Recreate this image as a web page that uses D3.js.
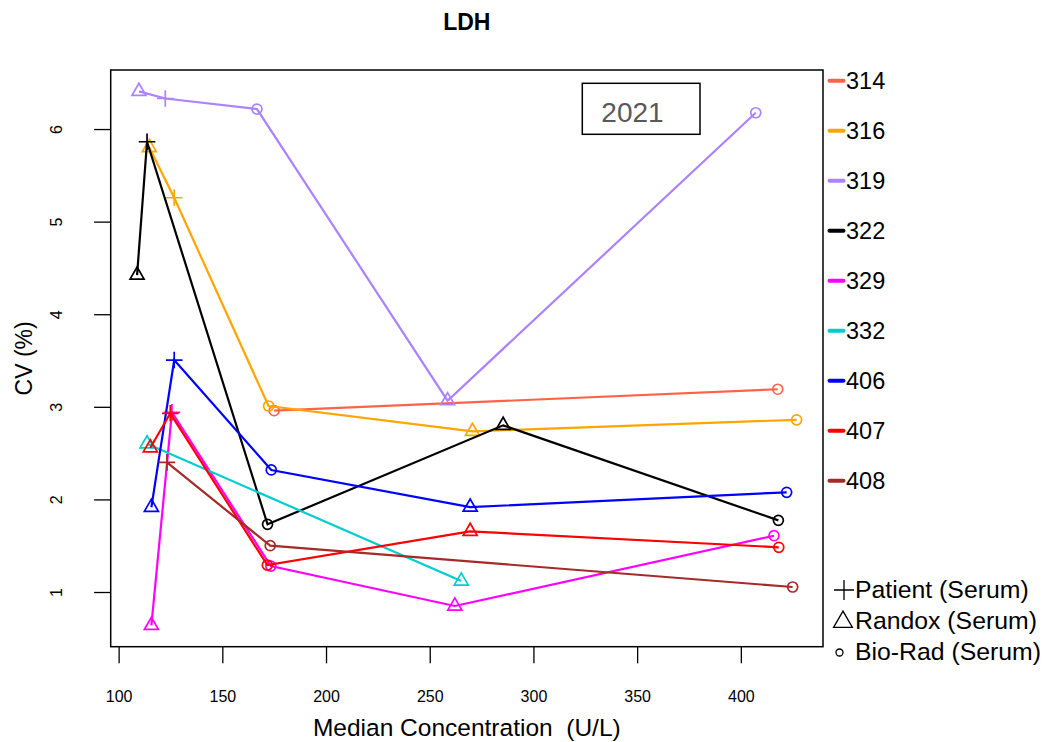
<!DOCTYPE html>
<html>
<head>
<meta charset="utf-8">
<script src="https://cdn.jsdelivr.net/npm/d3@7"></script>
<style>
  body { margin: 0; background: #fff; }
  svg { display: block; font-family: "Liberation Sans", Arial, sans-serif; }
</style>
</head>
<body>
<svg id="chart" width="1047" height="742"></svg>
<script>
// ---- Data ----
const labs = ["314", "316", "319", "322", "329", "332", "406", "407", "408"];
const labColors = ["#FF6347", "#FFA500", "#AB82FF", "#000000", "#FF00FF", "#00CDCD", "#0000FF", "#FF0000", "#A52A2A"];
// shape codes: "p" = Patient (+), "t" = Randox (triangle), "c" = Bio-Rad (circle)
const lab314 = [["c", 175.0, 2.958], ["c", 417.8, 3.19]];
const lab316 = [["t", 114.8, 5.80], ["p", 126.8, 5.258], ["c", 172.3, 3.009], ["t", 270.6, 2.735], ["c", 426.9, 2.86]];
const lab319 = [["t", 109.8, 6.407], ["p", 122.5, 6.33], ["c", 166.7, 6.216], ["t", 258.6, 3.066], ["c", 407.2, 6.176]];
const lab322 = [["t", 108.9, 4.423], ["p", 113.7, 5.863], ["c", 171.8, 1.731], ["t", 285.4, 2.80], ["c", 418.1, 1.774]];
const lab329 = [["t", 115.8, 0.64], ["p", 125.7, 2.94], ["c", 173.4, 1.28], ["t", 262.1, 0.849], ["c", 416.0, 1.608]];
const lab332 = [["t", 113.7, 2.60], ["t", 265.2, 1.119]];
const lab406 = [["t", 115.8, 1.915], ["p", 126.8, 3.505], ["c", 173.6, 2.318], ["t", 269.5, 1.917], ["c", 422.1, 2.077]];
const lab407 = [["t", 115.3, 2.558], ["p", 124.9, 2.93], ["c", 171.7, 1.29], ["t", 269.5, 1.655], ["c", 418.3, 1.483]];
const lab408 = [["p", 123.3, 2.40], ["c", 173.1, 1.50], ["c", 425.0, 1.054]];
const labData = [lab314, lab316, lab319, lab322, lab329, lab332, lab406, lab407, lab408];
const xTicks = [100, 150, 200, 250, 300, 350, 400];
const yTicks = [1, 2, 3, 4, 5, 6];
const shapeLegend = [["p", "Patient (Serum)"], ["t", "Randox (Serum)"], ["c", "Bio-Rad (Serum)"]];
const yearLabel = "2021";
const title = "LDH";
const xTitle = "Median Concentration  (U/L)";
const yTitle = "CV (%)";

// ---- Layout ----
const svg = d3.select("#chart");
const L = 110.7, R = 823, T = 70, B = 646.7;

const allX = labData.flat().map(d => d[1]);
const allY = labData.flat().map(d => d[2]);
const [x0, x1] = d3.extent(allX), [y0, y1] = d3.extent(allY);
const px = (x1 - x0) * 0.04, py = (y1 - y0) * 0.04;
const x = d3.scaleLinear().domain([x0 - px, x1 + px]).range([L, R]);
const y = d3.scaleLinear().domain([y0 - py, y1 + py]).range([B, T]);

// Title
svg.append("text").attr("x", (L + R) / 2).attr("y", 30)
  .attr("text-anchor", "middle").attr("font-weight", "bold").attr("font-size", 23)
  .text(title);

// Axes
const xAxis = d3.axisBottom(x).tickValues(xTicks).tickSize(16.6).tickPadding(27).tickFormat(d3.format("d"));
const gx = svg.append("g").attr("transform", `translate(0,${B})`).call(xAxis);
gx.select(".domain").remove();
gx.selectAll(".tick line").attr("stroke", "#000").attr("stroke-width", 1.3);
gx.selectAll(".tick text").attr("font-size", 16).attr("font-family", "Liberation Sans, Arial, sans-serif").attr("fill", "#000");

const yAxis = d3.axisLeft(y).tickValues(yTicks).tickSize(16.6).tickFormat(d3.format("d"));
const gy = svg.append("g").attr("transform", `translate(${L},0)`).call(yAxis);
gy.select(".domain").remove();
gy.selectAll(".tick line").attr("stroke", "#000").attr("stroke-width", 1.3);
gy.selectAll(".tick text").remove();
gy.selectAll(".tick").append("text")
  .attr("transform", "translate(-49,0) rotate(-90)")
  .attr("text-anchor", "middle").attr("fill", "#000")
  .attr("font-size", 16).attr("font-family", "Liberation Sans, Arial, sans-serif")
  .text(d => d);

// Box
svg.append("rect").attr("x", L).attr("y", T).attr("width", R - L).attr("height", B - T)
  .attr("fill", "none").attr("stroke", "#000").attr("stroke-width", 1.5);

// Axis titles
svg.append("text").attr("x", (L + R) / 2).attr("y", 736)
  .attr("text-anchor", "middle").attr("font-size", 24.5).style("white-space", "pre")
  .text(xTitle);
svg.append("text").attr("transform", `translate(32,${(T + B) / 2}) rotate(-90)`)
  .attr("text-anchor", "middle").attr("font-size", 23)
  .text(yTitle);

// Marker drawing
function drawMarker(g, shape, cx, cy, color, size, sw) {
  if (shape === "c") {
    g.append("circle").attr("cx", cx).attr("cy", cy).attr("r", size.c)
      .attr("fill", "none").attr("stroke", color).attr("stroke-width", sw);
  } else if (shape === "t") {
    const Rr = size.t;
    const up = 1.555 * Rr, xc = 1.347 * Rr, dn = 0.778 * Rr;
    g.append("path").attr("d", `M${cx},${cy - up}L${cx + xc},${cy + dn}L${cx - xc},${cy + dn}Z`)
      .attr("fill", "none").attr("stroke", color).attr("stroke-width", sw);
  } else {
    const h = size.p;
    g.append("path").attr("d", `M${cx - h},${cy}H${cx + h}M${cx},${cy - h}V${cy + h}`)
      .attr("fill", "none").attr("stroke", color).attr("stroke-width", sw);
  }
}

const line = d3.line().x(d => x(d[1])).y(d => y(d[2]));
const plot = svg.append("g");
labData.forEach((pts, i) => {
  const sorted = pts.slice().sort((a, b) => a[1] - b[1]);
  const g = plot.append("g");
  g.append("path").datum(sorted).attr("d", line)
    .attr("fill", "none").attr("stroke", labColors[i]).attr("stroke-width", 2.2);
  sorted.forEach(d => drawMarker(g, d[0], x(d[1]), y(d[2]), labColors[i], {c: 5, t: 5.2, p: 8.3}, 1.7));
});

// Year box
svg.append("rect").attr("x", 582.3).attr("y", 83.3).attr("width", 117.7).attr("height", 51)
  .attr("fill", "#fff").attr("stroke", "#000").attr("stroke-width", 1.5);
svg.append("text").attr("x", 632.5).attr("y", 121.5).attr("text-anchor", "middle")
  .attr("font-size", 28).attr("fill", "#595959").text(yearLabel);

// Lab legend
const lg = svg.append("g");
labs.forEach((lab, i) => {
  const cy = 80.7 + 50 * i;
  lg.append("line").attr("x1", 829.5).attr("x2", 843.5).attr("y1", cy).attr("y2", cy)
    .attr("stroke", labColors[i]).attr("stroke-width", 4).attr("stroke-linecap", "round");
  lg.append("text").attr("x", 846).attr("y", cy + 8.3).attr("font-size", 23.5).attr("fill", "#000").text(lab);
});

// Shape legend
const sl = svg.append("g");
const shapeRows = [[844, 590, 598.3], [843, 622, 629.3], [839.5, 652.5, 660]];
shapeLegend.forEach((s, i) => {
  const [sx, sy, by] = shapeRows[i];
  drawMarker(sl, s[0], sx, sy, "#000", {c: 3.5, t: 7, p: 10}, 1.3);
  sl.append("text").attr("x", 855).attr("y", by).attr("font-size", 24.8).attr("fill", "#000").text(s[1]);
});
</script>
</body>
</html>
